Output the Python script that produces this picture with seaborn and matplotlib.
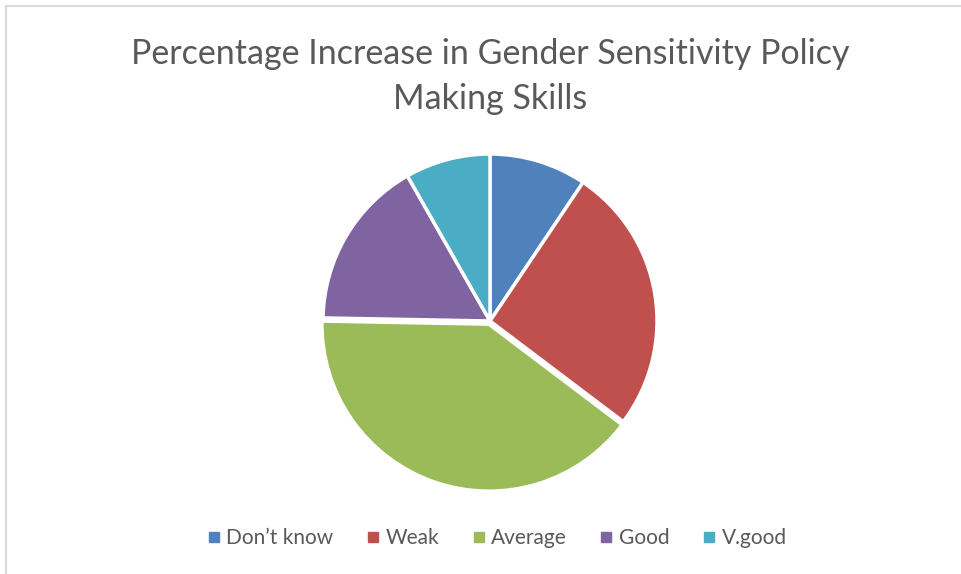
import matplotlib
matplotlib.use("Agg")
import matplotlib.pyplot as plt
from matplotlib.patches import Rectangle
import seaborn as sns

# Chart data
categories = ["Don\u2019t know", "Weak", "Average", "Good", "V.good"]
counts = [8, 22, 34, 14, 7]
slice_colors = ["#4F81BD", "#C0504D", "#9BBB59", "#8064A2", "#4BACC6"]
explode = [0, 0, 0.02, 0, 0]

sns.set_theme(style="white")
plt.rcParams['font.family'] = ['Lato', 'DejaVu Sans']

W, H = 961, 574
fig = plt.figure(figsize=(W / 100, H / 100), dpi=100)
fig.patch.set_facecolor("white")

# light frame around chart area
fig.patches.append(Rectangle((6 / W, -0.01), 1.0, 1 - 6 / H + 0.01, transform=fig.transFigure,
                             fill=False, edgecolor="#D9D9D9", linewidth=1.5))

# pie axes: centre (490, 321), radius 167 px
r = 167
cx, cy = 490, 321
ax = fig.add_axes([(cx - r) / W, (H - cy - r) / H, 2 * r / W, 2 * r / H])
palette = sns.color_palette(slice_colors)
wedges, _ = ax.pie(counts, colors=palette, startangle=90, counterclock=False,
                   explode=explode, radius=1.0,
                   wedgeprops=dict(edgecolor="white", linewidth=2.5, clip_on=False))
ax.set_aspect("equal")
ax.set_xlim(-1.0, 1.0)
ax.set_ylim(-1.0, 1.0)
ax.axis("off")

fig.text(490 / W, 1 - 54 / H, "Percentage Increase in Gender Sensitivity Policy",
         ha="center", va="center", fontsize=24.5, color="#595959")
fig.text(490 / W, 1 - 99 / H, "Making Skills",
         ha="center", va="center", fontsize=24.5, color="#595959")

handles = [plt.Line2D([0], [0], marker="s", linestyle="", markersize=7,
                      markerfacecolor=c, markeredgecolor=c) for c in palette]
fig.legend(handles, categories, loc="center", bbox_to_anchor=(496 / W, 1 - 538 / H),
           ncol=5, frameon=False, fontsize=15, labelcolor="#595959",
           handletextpad=0.2, columnspacing=1.5, handlelength=0.8)

fig.savefig("out.png", dpi=100, facecolor="white")
